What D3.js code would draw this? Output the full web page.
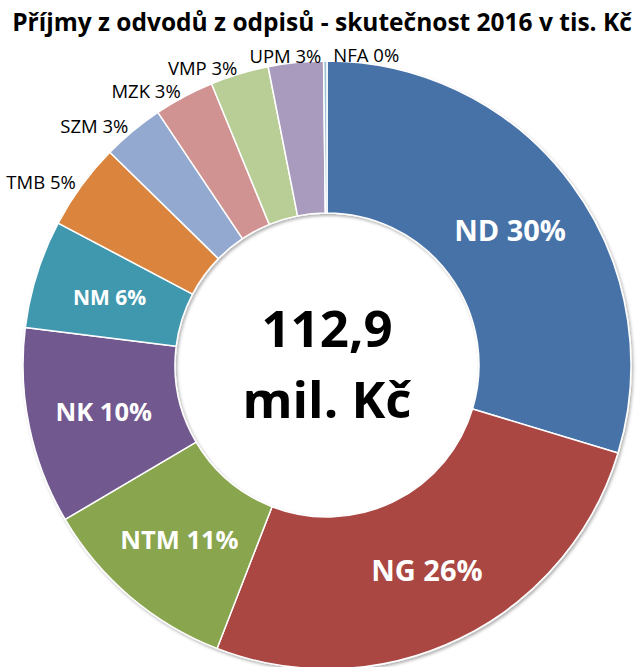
<!DOCTYPE html>
<html>
<head>
<meta charset="utf-8">
<script src="https://cdn.jsdelivr.net/npm/d3@7"></script>
<style>
    body { margin: 0; background: #fff; }
    svg { display: block; font-family: "Open Sans", sans-serif; }
</style>
</head>
<body>
<svg id="chart"></svg>
<script>
// values in tis. Kč
const categories = ["ND", "NG", "NTM", "NK", "NM", "TMB", "SZM", "MZK", "VMP", "UPM", "NFA"];
const values = [33500, 29600, 12000, 11800, 6500, 5200, 3700, 3600, 3500, 3300, 200];
const colors = ["#4672a8", "#aa4643", "#89a54e", "#71588f", "#4198af", "#db843d",
                "#93a9cf", "#d19392", "#b9cd96", "#a99bbd", "#9cc2d6"];
const titleText = "Příjmy z odvodů z odpisů - skutečnost 2016 v tis. Kč";
const centerLines = ["112,9", "mil. Kč"];

const width = 638, height = 667;
const cx = 327, cy = 365;
const outerR = 304, innerR = 152;

const svg = d3.select("#chart")
    .attr("width", width)
    .attr("height", height);

const defs = svg.append("defs");
defs.append("filter")
    .attr("id", "shadow")
    .attr("x", "-10%").attr("y", "-10%")
    .attr("width", "120%").attr("height", "120%")
    .append("feDropShadow")
    .attr("dx", 1.5).attr("dy", 2)
    .attr("stdDeviation", 1.8)
    .attr("flood-color", "#000")
    .attr("flood-opacity", 0.3);

// Title
svg.append("text")
    .attr("x", 322)
    .attr("y", 31)
    .attr("text-anchor", "middle")
    .attr("font-weight", "bold")
    .attr("font-size", "24.5px")
    .attr("fill", "#000")
    .text(titleText);

const data = categories.map((c, i) => ({ name: c, value: values[i], color: colors[i] }));
const total = d3.sum(values);

const pie = d3.pie()
    .value(d => d.value)
    .sort(null)
    .startAngle(0)
    .endAngle(2 * Math.PI);

const arc = d3.arc()
    .innerRadius(innerR)
    .outerRadius(outerR);

const arcs = pie(data);

const chart = svg.append("g")
    .attr("transform", `translate(${cx},${cy})`);

chart.append("g")
    .attr("filter", "url(#shadow)")
    .selectAll("path")
    .data(arcs)
    .join("path")
    .attr("d", arc)
    .attr("fill", d => d.data.color)
    .attr("stroke", "#fff")
    .attr("stroke-width", 1.5)
    .attr("stroke-linejoin", "round");

const pct = d => Math.round(d.data.value / total * 100) + "%";
const share = d => d.data.value / total;
const midAngle = d => (d.startAngle + d.endAngle) / 2;

// labels inside bigger slices
const inner = arcs.filter(d => share(d) >= 0.055);
chart.selectAll(".in-label")
    .data(inner)
    .join("text")
    .attr("class", "in-label")
    .attr("x", d => arc.centroid(d)[0])
    .attr("y", d => arc.centroid(d)[1])
    .attr("text-anchor", "middle")
    .attr("dominant-baseline", "central")
    .attr("font-weight", "bold")
    .attr("font-size", d => share(d) > 0.2 ? "29px" : share(d) > 0.08 ? "25.5px" : "21px")
    .attr("fill", "#fff")
    .text(d => d.data.name + " " + pct(d));

// labels outside small slices
const outer = arcs.filter(d => share(d) < 0.055);
const labelR = 311;
const outLabels = chart.selectAll(".out-label")
    .data(outer)
    .join("text")
    .attr("class", "out-label")
    .attr("x", d => labelR * Math.sin(midAngle(d)))
    .attr("y", d => -labelR * Math.cos(midAngle(d)))
    .attr("text-anchor", d => Math.sin(midAngle(d)) >= -0.02 ? "start" : "end")
    .attr("dominant-baseline", "central")
    .attr("font-size", "18.5px")
    .attr("fill", "#000")
    .text(d => d.data.name + " " + pct(d));

// push crowded labels near the top to the right so they don't collide
// (compare only the cap-height band of each label)
const band = 14, gap = 12;
let prev = null;
outLabels.each(function() {
    const el = d3.select(this);
    const y = +el.attr("y");
    let box = this.getBBox();
    if (prev) {
        const vOverlap = Math.abs(y - prev.y) < band;
        if (vOverlap && box.x < prev.right + gap) {
            el.attr("x", +el.attr("x") + (prev.right + gap - box.x));
            box = this.getBBox();
        }
    }
    prev = { y: y, right: box.x + box.width };
});

// total in the hole
chart.selectAll(".center-label")
    .data(centerLines)
    .join("text")
    .attr("class", "center-label")
    .attr("x", 0)
    .attr("y", (d, i) => i === 0 ? -18 : 53)
    .attr("text-anchor", "middle")
    .attr("font-weight", "bold")
    .attr("font-size", "51px")
    .attr("fill", "#000")
    .text(d => d);
</script>
</body>
</html>
